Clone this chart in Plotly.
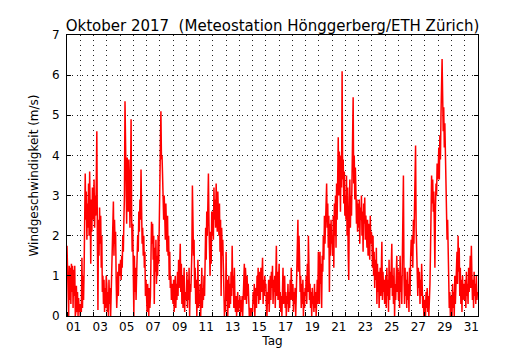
import plotly.graph_objects as go

# Hourly wind speed (m/s), October 2017, one list per day (hours 00..23)
oct01 = [1.75, 1.1, 0.2, 0.0, 1.25, 0.4, 1.2, 0.3, 1.3, 0.6, 1.25, 0.2, 1.15, 0.5, 1.25, 0.0, 0.1, 0.75, 0.1, 0.6, 0.0, 0.45, 0.1, 0.3]
oct02 = [0.0, 0.3, 0.1, 1.45, 0.2, 1.0, 0.4, 1.2, 2.2, 3.55, 2.4, 3.1, 1.9, 2.8, 2.2, 3.3, 2.0, 3.6, 2.5, 1.3, 2.9, 2.1, 3.2, 2.4]
oct03 = [2.6, 3.4, 2.2, 3.0, 2.5, 3.3, 4.6, 2.0, 0.15, 2.4, 1.5, 2.7, 1.8, 2.5, 1.2, 2.0, 0.6, 1.0, 0.3, 0.9, 0.1, 0.7, 0.2, 1.0]
oct04 = [0.8, 0.1, 0.6, 0.0, 0.9, 0.3, 0.7, 0.0, 0.5, 1.0, 1.6, 2.2, 2.85, 1.5, 2.4, 1.8, 2.1, 0.9, 0.2, 0.6, 1.1, 0.5, 1.3, 1.0]
oct05 = [1.1, 1.4, 0.9, 1.5, 1.2, 2.0, 1.6, 2.4, 3.0, 5.35, 4.1, 3.8, 2.3, 3.95, 3.6, 2.6, 3.9, 3.2, 2.2, 3.4, 4.9, 2.5, 1.6, 2.3]
oct06 = [1.3, 0.0, 1.5, 0.6, 1.2, 0.4, 1.0, 1.4, 2.0, 1.6, 2.6, 2.1, 2.9, 2.4, 3.65, 2.7, 1.8, 2.2, 1.5, 2.0, 1.2, 1.6, 0.5, 0.9]
oct07 = [0.6, 0.1, 0.8, 0.3, 0.0, 0.7, 0.2, 0.5, 1.5, 2.35, 1.8, 2.3, 1.4, 2.0, 0.3, 1.7, 1.1, 1.9, 0.8, 1.5, 1.0, 2.0, 1.3, 2.6]
oct08 = [3.2, 4.2, 5.1, 3.9, 4.0, 3.5, 2.9, 2.4, 3.0, 2.6, 1.9, 2.8, 2.2, 1.6, 2.5, 1.5, 2.0, 0.9, 1.6, 0.7, 1.0, 0.4, 0.8, 0.5]
oct09 = [0.3, 0.9, 0.1, 0.6, 1.0, 0.2, 0.8, 0.4, 1.1, 0.5, 1.4, 0.7, 1.2, 1.8, 0.6, 1.3, 0.3, 1.0, 0.2, 0.7, 1.2, 0.1, 0.6, 0.4]
oct10 = [0.5, 1.1, 0.2, 0.9, 0.4, 1.2, 0.0, 0.8, 0.6, 1.0, 1.6, 3.25, 2.1, 1.5, 1.9, 0.7, 1.2, 0.3, 0.9, 0.0, 0.6, 1.4, 0.2, 0.5]
oct11 = [0.3, 0.8, 0.0, 0.6, 1.2, 0.2, 0.7, 0.4, 1.0, 0.5, 1.6, 2.2, 1.4, 2.6, 2.0, 3.0, 3.55, 2.3, 1.5, 1.0, 2.1, 1.3, 2.6, 2.0]
oct12 = [2.6, 1.9, 3.2, 2.4, 2.9, 2.2, 3.3, 2.7, 2.1, 3.1, 2.5, 2.0, 2.8, 1.6, 2.4, 0.5, 2.2, 1.5, 1.9, 0.8, 0.3, 0.0, 0.4, 0.1]
oct13 = [1.6, 0.4, 0.9, 0.0, 0.6, 1.0, 0.2, 0.8, 0.3, 1.1, 0.5, 1.75, 0.7, 1.0, 0.2, 1.2, 0.4, 0.1, 0.5, 0.0, 0.3, 0.6, 0.1, 0.4]
oct14 = [0.2, 0.5, 0.0, 0.4, 0.1, 0.5, 0.0, 0.3, 0.6, 1.3, 0.4, 1.2, 0.9, 0.3, 1.0, 0.5, 0.8, 0.2, 0.0, 0.2, 0.1, 0.0, 0.2, 0.1]
oct15 = [0.1, 0.6, 0.3, 0.8, 0.0, 0.5, 0.7, 0.2, 1.0, 0.5, 1.2, 0.3, 0.9, 1.1, 0.4, 1.2, 0.6, 1.0, 1.45, 0.3, 0.9, 0.5, 1.0, 0.7]
oct16 = [0.8, 0.2, 0.0, 0.6, 0.3, 0.9, 0.1, 0.5, 1.0, 0.4, 1.1, 0.7, 1.25, 0.3, 0.9, 0.6, 1.0, 0.2, 0.8, 1.75, 0.5, 1.1, 0.4, 1.0]
oct17 = [1.3, 0.2, 0.6, 0.1, 0.5, 0.0, 0.4, 1.2, 0.3, 0.8, 1.0, 0.2, 0.6, 0.0, 0.5, 0.3, 0.8, 0.1, 0.6, 0.2, 0.9, 0.4, 1.2, 0.5]
oct18 = [0.4, 0.8, 0.1, 0.6, 0.3, 0.7, 0.0, 0.5, 1.2, 1.8, 2.4, 1.1, 2.0, 1.4, 0.6, 1.0, 0.2, 0.8, 0.3, 0.9, 0.0, 0.6, 0.2, 0.7]
oct19 = [0.5, 1.0, 0.3, 1.3, 0.6, 2.0, 1.5, 0.4, 0.8, 0.2, 0.6, 0.0, 0.7, 0.3, 0.5, 0.1, 0.8, 0.2, 0.6, 0.0, 0.4, 0.9, 0.3, 1.6]
oct20 = [1.0, 0.3, 1.6, 0.8, 1.3, 0.2, 1.5, 1.1, 2.0, 1.4, 2.5, 1.8, 2.3, 3.0, 3.3, 2.2, 2.8, 1.7, 2.5, 0.6, 2.3, 1.5, 2.4, 1.8]
oct21 = [2.0, 1.5, 2.5, 1.2, 2.8, 2.0, 3.0, 1.7, 3.3, 2.4, 3.9, 4.45, 3.0, 4.1, 3.5, 2.6, 4.0, 3.2, 6.1, 3.4, 3.9, 2.8, 3.6, 2.5]
oct22 = [3.0, 2.4, 3.5, 2.0, 3.2, 1.6, 0.9, 2.7, 3.4, 2.2, 3.0, 2.5, 3.6, 4.0, 5.45, 3.3, 4.0, 2.9, 3.7, 3.1, 2.3, 2.9, 2.1, 2.8]
oct23 = [2.2, 2.9, 1.8, 2.7, 2.4, 3.0, 2.0, 2.6, 1.6, 2.8, 2.3, 2.95, 1.9, 2.5, 2.2, 1.7, 2.4, 1.5, 2.3, 2.0, 1.4, 2.5, 1.8, 2.1]
oct24 = [1.9, 1.2, 2.0, 1.0, 1.6, 0.7, 1.4, 0.9, 1.7, 0.3, 1.3, 0.6, 1.1, 0.2, 0.9, 1.2, 0.5, 1.0, 1.85, 0.4, 1.1, 0.6, 0.9, 0.3]
oct25 = [0.6, 1.0, 0.2, 1.2, 0.5, 0.9, 0.1, 1.4, 0.4, 1.1, 0.7, 1.3, 1.8, 0.5, 1.0, 0.3, 1.2, 0.0, 0.8, 0.4, 1.0, 1.5, 0.6, 1.2]
oct26 = [0.4, 1.1, 0.2, 1.5, 0.6, 1.0, 0.3, 1.2, 1.8, 3.5, 1.0, 0.3, 1.2, 0.5, 0.9, 0.2, 1.1, 0.4, 0.8, 0.1, 1.2, 0.5, 1.4, 1.9]
oct27 = [1.5, 2.0, 1.2, 2.4, 1.8, 2.6, 3.0, 4.25, 2.2, 1.6, 1.0, 0.5, 1.2, 0.7, 1.1, 0.3, 0.9, 0.5, 1.3, 0.6, 0.2, 0.5, 0.0, 0.3]
oct28 = [0.4, 0.0, 0.6, 0.2, 0.7, 0.1, 0.5, 0.0, 0.3, 0.8, 1.6, 2.5, 3.5, 2.8, 3.4, 2.6, 3.1, 2.2, 1.2, 2.7, 3.3, 3.0, 3.8, 3.4]
oct29 = [3.6, 4.2, 3.4, 4.5, 3.9, 5.0, 5.8, 6.4, 5.5, 4.6, 5.2, 4.2, 4.8, 3.9, 4.0, 2.8, 1.9, 2.4, 1.5, 0.8, 0.2, 0.6, 0.0, 0.4]
oct30 = [0.5, 0.0, 0.8, 0.2, 0.6, 0.0, 1.0, 0.3, 0.7, 1.2, 1.6, 0.8, 2.0, 1.1, 1.7, 0.5, 1.2, 0.3, 0.9, 0.1, 1.0, 0.4, 0.8, 0.6]
oct31 = [0.4, 0.9, 0.2, 1.1, 0.5, 0.8, 0.3, 1.2, 0.6, 1.0, 1.5, 0.7, 1.75, 1.0, 0.4, 0.9, 0.2, 1.1, 0.5, 0.8, 0.3, 1.0, 0.4, 0.6]

days = [oct01, oct02, oct03, oct04, oct05, oct06, oct07, oct08, oct09, oct10,
        oct11, oct12, oct13, oct14, oct15, oct16, oct17, oct18, oct19, oct20,
        oct21, oct22, oct23, oct24, oct25, oct26, oct27, oct28, oct29, oct30, oct31]

day_labels = ["01", "03", "05", "07", "09", "11", "13", "15", "17", "19", "21",
              "23", "25", "27", "29", "31"]
y_ticks = [0, 1, 2, 3, 4, 5, 6, 7]

x = []
y = []
for d, vals in enumerate(days):
    n = len(vals)
    for h, v in enumerate(vals):
        x.append(d + h / n)
        y.append(v)

label_pos = [int(s) - 0.5 for s in day_labels]

font = "DejaVu Sans"
fig = go.Figure()
fig.add_trace(go.Scatter(x=x, y=y, mode="lines",
                         line=dict(color="#ff0000", width=1.5),
                         hoverinfo="skip", showlegend=False))

grid = dict(showgrid=True, gridcolor="#222222", gridwidth=1, griddash="1px,4px")

# The page body adds an 8px offset; margins compensate for it.
fig.update_layout(
    width=530, height=350,
    margin=dict(l=59, r=60, t=27, b=42),
    paper_bgcolor="white", plot_bgcolor="white",
    font=dict(family=font, size=12, color="black"),
    title=dict(text="Oktober 2017  (Meteostation Hönggerberg/ETH Zürich)",
               x=0.5, xref="paper", xanchor="center",
               y=1, yref="paper", yanchor="bottom",
               pad=dict(b=4), automargin=False,
               font=dict(family=font, size=15, color="black")),
    xaxis=dict(range=[0, 31], tickvals=label_pos, ticktext=day_labels,
               ticks="", showgrid=False, zeroline=False, automargin=False,
               showline=True, linecolor="black", linewidth=1, mirror=True,
               tickfont=dict(size=12),
               minor=dict(tick0=0, dtick=1, ticks="inside", ticklen=4,
                          tickcolor="black", **grid),
               title=dict(text="Tag", standoff=2, font=dict(size=12))),
    yaxis=dict(range=[0, 7], tickvals=y_ticks, ticks="inside", ticklen=4,
               tickcolor="black", zeroline=False, automargin=False,
               showline=True, linecolor="black", linewidth=1, mirror="ticks",
               ticklabelstandoff=4,
               tickfont=dict(size=12),
               title=dict(text="Windgeschwindigkeit (m/s)", standoff=10,
                          font=dict(size=12)),
               **grid),
)

fig.write_html("out.html")
